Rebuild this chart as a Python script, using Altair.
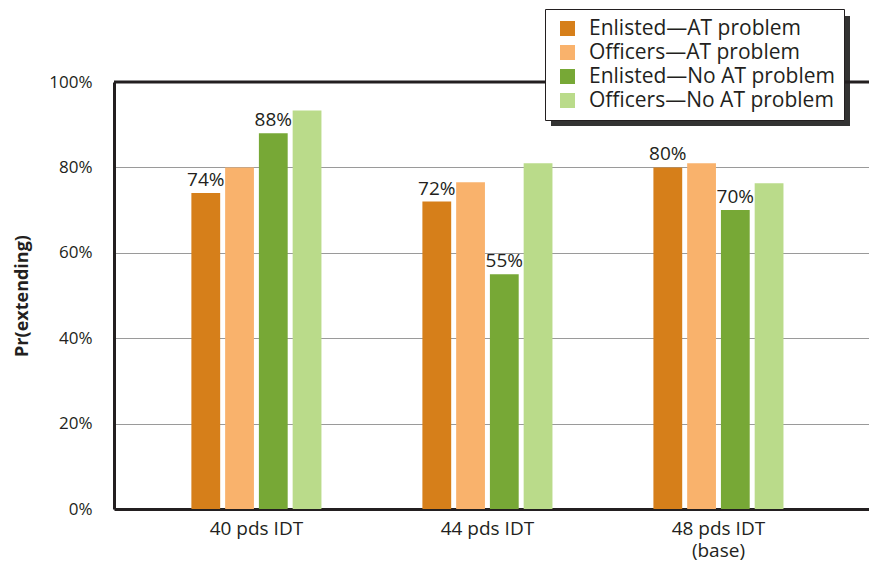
import altair as alt
import pandas as pd

# Categories and series
scenarios = ["40 pds IDT", "44 pds IDT", "48 pds IDT|(base)"]
series = [
    "Enlisted\u2014AT problem",
    "Officers\u2014AT problem",
    "Enlisted\u2014No AT problem",
    "Officers\u2014No AT problem",
]
colors = ["#d67f1a", "#f9b26c", "#77a836", "#badb8a"]

enlisted_at = [74, 72, 80]
officers_at = [80, 76.5, 81]
enlisted_no_at = [88, 55, 70]
officers_no_at = [93.3, 81, 76.3]

# Which series carry a value label above the bar
labeled = [True, False, True, False]

rows = []
for s_i, (name, vals) in enumerate(
    zip(series, [enlisted_at, officers_at, enlisted_no_at, officers_no_at])
):
    for c, v in zip(scenarios, vals):
        rows.append(
            {
                "scenario": c,
                "series": name,
                "value": v,
                "label": f"{round(v)}%" if labeled[s_i] else "",
            }
        )
df = pd.DataFrame(rows)

FONT = "Open Sans"
INK = "#231f20"

x_enc = alt.X(
    "scenario:N",
    sort=scenarios,
    title=None,
    scale=alt.Scale(paddingInner=0.437, paddingOuter=0.3526, align=0.475),
    axis=alt.Axis(
        labelAngle=0,
        labelExpr="split(datum.value, '|')",
        labelFontSize=19,
        labelFont=FONT,
        labelColor=INK,
        labelPadding=10,
        labelLineHeight=22,
        ticks=False,
        domainColor=INK,
        domainWidth=3,
        grid=False,
    ),
)
xoff = alt.XOffset(
    "series:N", sort=series, scale=alt.Scale(paddingInner=0.147, paddingOuter=0)
)
y_enc = alt.Y(
    "value:Q",
    scale=alt.Scale(domain=[0, 100], nice=False),
    title="Pr(extending)",
    axis=alt.Axis(
        values=[0, 20, 40, 60, 80, 100],
        labelExpr="datum.value + '%'",
        labelFontSize=17,
        labelFont=FONT,
        labelColor=INK,
        labelPadding=22,
        ticks=False,
        domainColor=INK,
        domainWidth=3,
        gridColor="#9a9a9a",
        gridWidth=1.2,
        titleFont=FONT,
        titleFontSize=18,
        titleFontWeight="bold",
        titleColor=INK,
        titlePadding=17,
    ),
)

# Drop shadow behind the legend box
shadow = alt.Chart(pd.DataFrame({"k": [0]})).mark_rect(color="#333333").encode(
    x=alt.value(437), x2=alt.value(736), y=alt.value(-66), y2=alt.value(44)
)

top_rule = alt.Chart(pd.DataFrame({"v": [100]})).mark_rule(
    color=INK, strokeWidth=3
).encode(y=alt.Y("v:Q", scale=alt.Scale(domain=[0, 100], nice=False)))

bars = alt.Chart(df).mark_bar().encode(
    x=x_enc,
    xOffset=xoff,
    y=y_enc,
    color=alt.Color(
        "series:N",
        sort=series,
        scale=alt.Scale(domain=series, range=colors),
        legend=alt.Legend(
            title=None,
            orient="none",
            legendX=431,
            legendY=-73,
            symbolType="square",
            symbolSize=225,
            symbolStrokeWidth=0,
            symbolOffset=3,
            labelOffset=11,
            labelFont=FONT,
            labelFontSize=21,
            labelColor=INK,
            rowPadding=2,
            padding=9,
            fillColor="white",
            strokeColor=INK,
            labelLimit=400,
        ),
    ),
)

labels = alt.Chart(df).mark_text(
    baseline="bottom", dy=-3, fontSize=19, font=FONT, color=INK
).encode(
    x=alt.X("scenario:N", sort=scenarios),
    xOffset=xoff,
    y=alt.Y("value:Q"),
    text="label:N",
)

chart = (
    alt.layer(shadow, bars, labels, top_rule)
    .resolve_scale(y="shared")
    .properties(
        width=755,
        height=427,
        padding={"left": 114, "top": 82, "right": 0, "bottom": 59},
        autosize=alt.AutoSizeParams(type="none"),
        background="white",
    )
    .configure_view(stroke=None)
)

chart.save("out.html", embed_options={"renderer": "svg", "actions": False})
